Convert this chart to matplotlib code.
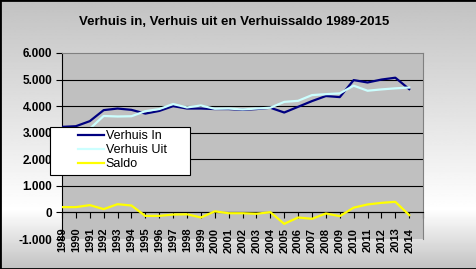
import numpy as np
import matplotlib
matplotlib.use('Agg')
import matplotlib.pyplot as plt
from matplotlib.patches import Rectangle

# --- data ---
years = [str(y) for y in range(1989, 2015)]
verhuis_in = [3220, 3245, 3435, 3850, 3910, 3860, 3720, 3820, 4000, 3910,
              3910, 3890, 3890, 3860, 3890, 3940, 3760, 3975, 4190, 4380,
              4340, 4980, 4890, 5000, 5070, 4640]
verhuis_uit = [3020, 3045, 3150, 3630, 3610, 3620, 3810, 3890, 4080, 3950,
               4025, 3900, 3910, 3875, 3910, 3940, 4160, 4200, 4415, 4450,
               4480, 4770, 4580, 4630, 4670, 4700]
saldo = [200, 200, 275, 125, 310, 260, -130, -130, -80, -70,
         -190, 40, -30, -30, -50, 10, -430, -190, -240, -40,
         -140, 180, 300, 360, 400, -100]
y_ticks = [-1000, 0, 1000, 2000, 3000, 4000, 5000, 6000]
y_labels = ['-1.000', '0', '1.000', '2.000', '3.000', '4.000', '5.000', '6.000']

plt.rcParams['font.family'] = ['Liberation Sans', 'DejaVu Sans']

fig = plt.figure(figsize=(4.77, 2.69), dpi=100)

# achtergrond met verloop (grijs -> wit -> grijs)
bg = fig.add_axes([0, 0, 1, 1], zorder=-5)
t = np.linspace(0, 1, 300)
shade = np.where(t < 0.78, 0.76 + 0.24 * t / 0.78, 1.0 - 0.24 * (t - 0.78) / 0.22)
bg.imshow(shade[:, None], aspect='auto', cmap='gray', vmin=0, vmax=1,
          extent=[0, 1, 0, 1])
bg.set_axis_off()

ax = fig.add_axes([0.130, 0.1115, 0.757, 0.6915])
ax.set_facecolor('#c0c0c0')
# x-as door nul (eerst, want dit zet de ticks opnieuw)
ax.spines['bottom'].set_position(('data', 0))

x = np.arange(len(years))
ax.plot(x, verhuis_in, color='#000080', lw=1.6, label='Verhuis In', zorder=3)
ax.plot(x, verhuis_uit, color='#ccffff', lw=1.6, label='Verhuis Uit', zorder=3)
ax.plot(x, saldo, color='#ffff00', lw=1.6, label='Saldo', zorder=3)

ax.set_xlim(0, len(years))
ax.set_ylim(-1000, 6000)
ax.set_yticks(y_ticks)
ax.set_yticklabels(y_labels, fontsize=8.5, fontweight='bold')
ax.tick_params(axis='y', length=4, width=0.8, color='black', pad=3)

ax.set_xticks(np.arange(len(years) + 1))
ax.set_xticklabels(years + [''], rotation=90, fontsize=8, fontweight='bold')
ax.tick_params(axis='x', length=4, width=0.8, direction='out', pad=7)

ax.grid(axis='y', color='black', lw=0.8, zorder=1)
gl = ax.yaxis.get_gridlines()
gl[0].set_visible(False)
gl[-1].set_visible(False)

ax.spines['bottom'].set_color('black')
ax.spines['left'].set_color('black')
ax.spines['top'].set_color('#808080')
ax.spines['right'].set_color('#808080')
ax.set_axisbelow(True)

# legenda: los kader (zoals Excel) met de items wat naar rechts
box = Rectangle((-0.0332, 0.344), 0.388, 0.258, transform=ax.transAxes,
                facecolor='white', edgecolor='black', lw=0.8, zorder=9,
                clip_on=False)
ax.add_patch(box)
leg = ax.legend(loc='upper left', bbox_to_anchor=(0.0443, 0.585), fontsize=9,
                frameon=False, borderpad=0, labelspacing=0.15,
                handlelength=2.1, handletextpad=0.1, borderaxespad=0)
leg.set_zorder(10)

fig.text(0.49, 0.918, 'Verhuis in, Verhuis uit en Verhuissaldo 1989-2015',
         ha='center', va='center', fontsize=9.5, fontweight='bold')

fig.patches.append(Rectangle((0, 0), 1, 1, transform=fig.transFigure,
                             fill=False, edgecolor='black', lw=2))

fig.savefig('out.png', dpi=100)
